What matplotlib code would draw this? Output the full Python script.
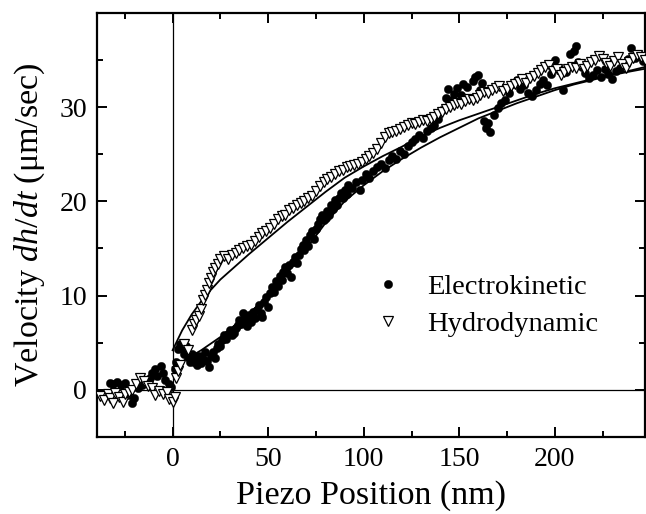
"""Approach velocity versus piezo position, electrokinetic vs hydrodynamic."""

import matplotlib

matplotlib.use("Agg")
import matplotlib.pyplot as plt
from matplotlib.ticker import MultipleLocator

# electrokinetic (filled circles)
ek_x = [-33, -31, -29, -27, -25, -23, -21, -20, -18, -16, -14, -12, -11, -9, -8, -6, -5, -4, -2, -1,
        1, 2, 3, 4, 5, 6, 7, 8, 9, 10, 11, 12, 13, 14, 15, 16, 17, 18, 19, 20,
        21, 22, 23, 24, 25, 26, 27, 28, 29, 30, 31, 32, 33, 34, 35, 36, 37, 38, 39, 40,
        41, 42, 43, 44, 45, 46, 47, 48, 49, 50, 51, 52, 53, 54, 55, 56, 57, 58, 59, 60,
        61, 62, 63, 64, 65, 66, 67, 68, 69, 70, 71, 72, 73, 74, 75, 76, 77, 78, 79, 80,
        81, 82, 83, 84, 85, 86, 87, 88, 89, 90, 91, 92, 94, 96, 98, 99, 101, 103, 105, 107,
        109, 111, 113, 115, 117, 119, 121, 123, 125, 127, 129, 131, 133, 135, 137, 139, 141, 143, 144, 146,
        147, 149, 151, 152, 154, 155, 157, 158, 160, 161, 162, 163, 164, 165, 166, 168, 170, 172, 174, 176,
        178, 180, 182, 184, 186, 188, 190, 192, 194, 196, 198, 200, 202, 204, 206, 208, 210, 211, 212, 214,
        216, 218, 220, 222, 224, 226, 228, 230, 232, 234, 236, 238, 240, 242, 244, 246]
ek_v = [0.7, 0.6, 0.8, 0.5, 0.7, -0.6, -1.4, -0.9, 0.2, 0.5, 1.0, 1.3, 1.8, 2.2, 1.5, 2.5, 1.8, 1.0, 0.6, 0.3,
        2.2, 3.0, 4.3, 4.9, 4.5, 3.8, 4.6, 3.5, 3.0, 3.8, 2.9, 3.4, 2.6, 3.6, 2.8, 3.3, 4.0, 3.1, 2.4, 3.6,
        4.0, 3.4, 4.4, 4.9, 4.6, 5.3, 5.8, 5.4, 5.9, 6.3, 5.8, 6.0, 6.6, 6.9, 7.4, 7.0, 8.1, 7.5, 6.8, 7.9,
        7.2, 8.3, 7.6, 8.5, 9.0, 8.2, 7.7, 9.3, 9.8, 8.8, 10.3, 10.9, 10.4, 11.5, 11.0, 12.1, 11.6, 12.5, 13.0, 12.4,
        13.2, 12.0, 13.6, 14.1, 13.5, 14.3, 14.9, 15.4, 14.8, 15.9, 15.3, 16.4, 16.8, 16.0, 17.1, 17.6, 18.1, 18.6, 18.0, 18.2,
        19.0, 18.5, 19.6, 19.2, 20.1, 19.6, 20.4, 20.9, 20.3, 21.2, 20.8, 21.7, 21.4, 22.0, 21.2, 22.3, 22.9, 22.5, 23.2, 23.6,
        24.0, 23.5, 24.4, 24.8, 24.5, 25.3, 25.0, 25.9, 26.3, 26.6, 27.0, 26.7, 27.5, 27.8, 28.1, 28.7, 29.7, 31.0, 31.9, 30.7,
        31.4, 32.0, 31.3, 32.5, 32.1, 31.0, 32.8, 33.2, 33.4, 31.8, 32.6, 28.5, 27.8, 28.3, 27.4, 29.2, 29.9, 30.4, 30.8, 31.5,
        32.4, 32.9, 31.9, 32.3, 31.5, 31.2, 31.8, 32.4, 32.9, 32.3, 33.5, 35.0, 34.2, 31.8, 33.7, 35.6, 36.0, 36.5, 34.8, 34.3,
        33.6, 33.1, 33.4, 33.9, 33.2, 34.0, 33.5, 33.0, 33.8, 34.2, 34.6, 35.1, 36.3, 35.2, 35.6, 34.9]

# hydrodynamic (open down-triangles)
hd_x = [-38, -36, -34, -33, -31, -30, -28, -26, -25, -23, -21, -19, -17, -15, -13, -11, -9, -7, -5, -3,
        -2, 0, 1, 2, 3, 4, 6, 8, 10, 11, 12, 14, 15, 16, 17, 18, 19, 20, 21, 22,
        24, 25, 27, 29, 31, 33, 35, 37, 39, 41, 43, 45, 47, 49, 51, 53, 55, 57, 59, 61,
        63, 65, 67, 69, 71, 73, 75, 77, 79, 81, 83, 85, 87, 89, 91, 93, 95, 97, 99, 101,
        103, 105, 107, 109, 111, 113, 115, 117, 119, 121, 123, 125, 127, 129, 131, 133, 135, 137, 139, 141,
        143, 145, 147, 149, 151, 153, 155, 157, 159, 161, 163, 165, 167, 169, 171, 173, 175, 177, 179, 181,
        183, 185, 187, 189, 191, 193, 195, 197, 199, 201, 203, 205, 207, 209, 211, 213, 215, 217, 219, 221,
        223, 225, 227, 229, 231, 233, 235, 237, 239, 241, 243, 245, 247]
hd_v = [-0.7, -1.1, -0.5, -0.9, -1.4, -0.3, -0.8, -1.3, -0.5, -0.2, 0.0, 0.6, 1.2, 0.9, 0.4, 0.2, -0.6, -0.1, -0.4, -0.2,
        -1.0, -1.3, -0.8, 1.2, 2.0, 2.6, 4.9, 4.2, 6.3, 7.0, 7.4, 7.8, 8.6, 9.5, 10.1, 10.6, 11.3, 11.9, 12.5, 12.9,
        13.3, 13.9, 14.2, 13.9, 14.3, 14.5, 14.8, 15.0, 15.3, 15.4, 15.8, 16.2, 16.6, 16.9, 17.2, 17.6, 18.1, 18.4, 18.6, 19.1,
        19.3, 19.6, 19.8, 20.0, 20.3, 20.6, 21.1, 21.6, 22.0, 22.4, 22.6, 22.9, 23.2, 23.3, 23.6, 23.7, 23.9, 24.0, 24.2, 24.5,
        24.8, 25.1, 25.6, 26.2, 26.8, 27.2, 27.4, 27.5, 27.7, 27.9, 28.1, 28.3, 28.2, 28.4, 28.6, 28.5, 28.7, 29.0, 29.3, 29.5,
        29.8, 30.0, 30.2, 30.4, 30.3, 30.6, 30.9, 30.7, 31.0, 31.3, 31.6, 31.5, 31.8, 32.0, 32.2, 31.7, 31.9, 32.2, 32.4, 32.7,
        33.0, 32.6, 33.1, 33.3, 33.6, 33.9, 34.3, 34.5, 33.8, 34.0, 33.4, 33.7, 34.0, 34.3, 34.2, 34.6, 34.0, 34.4, 34.8, 35.0,
        35.4, 35.1, 34.7, 34.4, 34.9, 35.3, 34.6, 34.1, 34.8, 35.2, 35.5, 35.3, 35.0]

# fitted curves
fit_x = [0, 5, 10, 15, 20, 25, 30, 35, 40, 50, 60, 70, 80, 90, 100, 110, 120, 130, 140, 150,
         160, 170, 180, 190, 200, 210, 220, 230, 240, 248]
ek_fit = [2.4, 3.0, 3.6, 4.2, 4.9, 5.6, 6.4, 7.3, 8.1, 10.0, 12.4, 15.0, 17.7, 20.0, 21.7, 23.2, 24.5, 25.7, 26.8, 27.8,
          28.8, 29.6, 30.4, 31.1, 31.8, 32.4, 32.9, 33.4, 33.8, 34.1]
hd_fit = [4.2, 6.3, 8.0, 9.4, 10.6, 11.7, 12.6, 13.5, 14.4, 16.1, 17.8, 19.4, 21.0, 22.5, 23.7, 24.8, 25.8, 26.9, 27.8, 28.6,
          29.3, 30.0, 30.7, 31.4, 32.0, 32.5, 33.0, 33.5, 33.9, 34.3]

plt.rcParams["font.family"] = ["Liberation Serif", "DejaVu Serif"]
plt.rcParams["mathtext.fontset"] = "custom"
plt.rcParams["mathtext.it"] = "Liberation Serif:italic"
plt.rcParams["mathtext.rm"] = "Liberation Serif"

fig = plt.figure(figsize=(6.46, 5.14), dpi=100)
ax = fig.add_axes([0.150, 0.150, 0.848, 0.825])

ax.axhline(0, color="black", lw=0.9, zorder=1)
ax.axvline(0, color="black", lw=0.9, zorder=1)

ax.plot(fit_x, ek_fit, color="black", lw=1.3, zorder=2)
ax.plot(fit_x, hd_fit, color="black", lw=1.3, zorder=2)

ax.plot(ek_x, ek_v, "o", mfc="black", mec="black", ms=6, mew=0.3,
        label="Electrokinetic", zorder=3)
ax.plot(hd_x, hd_v, "v", mfc="white", mec="black", ms=7, mew=0.9,
        label="Hydrodynamic", zorder=3)

ax.set_xlim(-39.6, 247)
ax.set_ylim(-5, 40)
ax.xaxis.set_major_locator(MultipleLocator(50))
ax.xaxis.set_minor_locator(MultipleLocator(25))
ax.set_yticks([0, 10, 20, 30])
ax.yaxis.set_minor_locator(MultipleLocator(5))
ax.tick_params(which="both", direction="in", top=True, right=True, width=1.4, labelsize=20)
ax.tick_params(which="major", length=7, pad=7)
ax.tick_params(which="minor", length=4.5)
for spine in ax.spines.values():
    spine.set_linewidth(1.6)

ax.set_xlabel("Piezo Position (nm)", fontsize=24.5, labelpad=6)
ax.set_ylabel(r"Velocity $dh/dt$ ($\mathrm{\mu}$m/sec)", fontsize=24.5, labelpad=9)

ax.legend(loc="center left", bbox_to_anchor=(0.484, 0.31), frameon=False, fontsize=20.5,
          handletextpad=0.9, labelspacing=0.4, handlelength=1.0, borderaxespad=0)

fig.savefig("out.png", dpi=100)
